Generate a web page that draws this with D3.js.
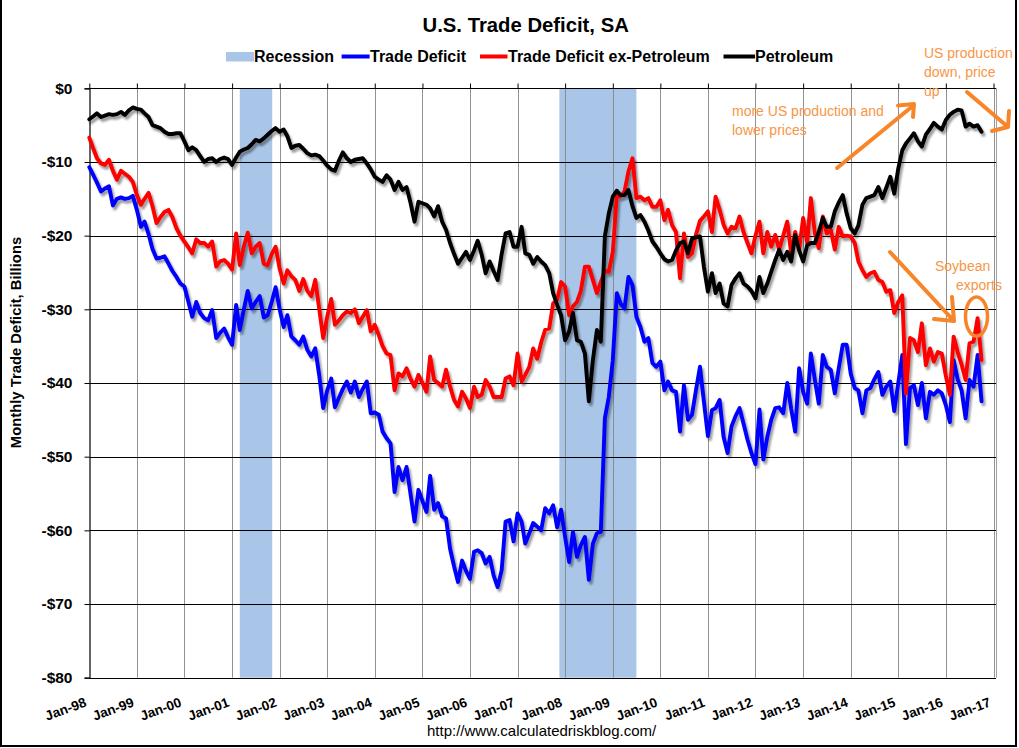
<!DOCTYPE html>
<html><head><meta charset="utf-8">
<script src="https://cdn.jsdelivr.net/npm/d3@7"></script>
<style>
body{margin:0;background:#fff;}
svg{display:block;font-family:"Liberation Sans",Arial,sans-serif;}
</style>
</head><body>
<svg id="chart" width="1019" height="748"></svg>
<script>
// ---------------- DATA (monthly, Jan 1998 – Oct 2016, $ billions) ----------------
const firstMonth = [1998, 0];
const monthCount = 226;

const tradeDeficit = [
-10.7,-11.8,-12.8,-14.0,-13.6,-13.3,-15.9,-15.0,-14.8,-15.0,-14.9,-14.6,
-16.5,-18.8,-18.1,-19.8,-21.8,-23.1,-23.0,-22.8,-23.8,-24.8,-25.6,-26.5,
-26.9,-29.0,-31.0,-29.0,-30.5,-31.2,-31.5,-30.1,-33.9,-33.2,-32.6,-33.8,
-34.8,-29.4,-32.8,-30.0,-27.5,-29.9,-29.0,-28.2,-31.1,-30.8,-29.0,-27.0,
-30.0,-32.4,-30.8,-33.7,-34.2,-34.8,-33.7,-35.5,-36.4,-35.3,-39.0,-43.4,
-41.0,-39.4,-43.3,-42.0,-40.8,-39.8,-41.3,-39.8,-41.9,-40.8,-39.8,-44.1,
-44.0,-44.3,-46.6,-47.5,-48.2,-54.8,-51.4,-53.2,-51.4,-55.0,-58.8,-54.5,
-56.0,-57.5,-52.6,-57.2,-56.3,-58.1,-58.4,-62.5,-64.9,-67.0,-64.1,-65.5,
-66.6,-62.9,-62.7,-63.1,-64.5,-63.6,-66.1,-67.7,-65.4,-58.8,-58.6,-61.5,
-57.7,-58.8,-61.8,-60.4,-59.0,-59.5,-60.0,-57.0,-57.7,-56.6,-59.6,-57.2,
-60.9,-64.3,-60.2,-63.6,-62.0,-60.9,-66.7,-61.8,-60.4,-60.2,-44.8,-41.9,
-36.9,-27.8,-29.2,-29.9,-25.6,-26.7,-31.0,-32.4,-34.4,-33.9,-37.3,-37.8,
-37.1,-41.0,-39.8,-41.0,-41.2,-46.6,-40.3,-45.0,-44.3,-41.0,-37.8,-42.5,
-47.2,-43.7,-43.4,-42.3,-47.3,-49.5,-45.9,-44.5,-43.4,-45.5,-47.7,-49.5,
-51.0,-43.6,-50.4,-47.3,-45.0,-43.4,-43.3,-44.1,-40.0,-43.5,-46.6,-38.0,
-41.2,-42.8,-36.0,-39.6,-42.8,-36.2,-37.8,-38.2,-41.4,-38.0,-34.8,-34.8,
-38.7,-40.7,-41.0,-44.1,-41.0,-40.7,-39.5,-38.5,-41.6,-40.5,-39.8,-43.8,
-40.0,-36.2,-48.3,-40.7,-40.3,-43.0,-40.0,-44.8,-41.2,-41.6,-41.0,-41.4,
-43.0,-45.3,-36.9,-39.5,-41.0,-44.8,-39.6,-40.5,-36.2,-42.5
];

const exPetroleum = [
-6.7,-8.2,-9.5,-10.2,-10.4,-9.7,-11.2,-12.4,-11.2,-11.6,-12.0,-12.7,
-14.5,-15.8,-15.0,-14.2,-16.0,-18.3,-17.5,-16.8,-16.5,-17.5,-19.0,-20.0,
-20.8,-21.6,-22.4,-20.5,-21.0,-21.0,-21.5,-20.8,-24.2,-23.5,-23.3,-23.8,
-24.6,-19.7,-24.0,-21.5,-19.6,-22.4,-21.5,-21.0,-23.8,-24.0,-22.5,-21.5,
-24.5,-26.5,-24.7,-25.5,-26.0,-27.5,-25.9,-27.5,-28.2,-26.0,-30.0,-33.9,
-31.0,-28.6,-32.1,-31.5,-30.8,-30.3,-30.5,-30.0,-31.9,-31.0,-30.1,-33.0,
-32.1,-33.5,-35.0,-36.0,-36.2,-41.0,-38.7,-39.1,-38.0,-39.4,-40.5,-38.9,
-40.0,-41.2,-36.4,-39.6,-40.0,-40.5,-38.2,-40.5,-42.3,-43.2,-41.2,-42.1,
-43.4,-40.5,-41.9,-41.6,-39.6,-40.5,-41.9,-41.9,-41.9,-39.4,-39.1,-40.3,
-36.0,-39.8,-38.9,-37.8,-35.3,-36.7,-34.5,-32.8,-32.6,-29.2,-28.7,-26.3,
-26.9,-30.8,-29.6,-29.0,-27.5,-24.2,-24.2,-26.0,-27.8,-26.3,-24.8,-24.9,
-22.2,-14.5,-14.7,-14.0,-11.3,-9.5,-14.9,-14.7,-15.2,-14.9,-16.1,-16.1,
-15.2,-17.9,-16.5,-18.6,-19.5,-25.8,-19.7,-22.9,-22.4,-19.9,-18.0,-17.4,
-16.7,-19.5,-14.7,-16.5,-18.5,-19.7,-18.8,-19.0,-17.4,-19.5,-21.0,-22.4,
-20.0,-18.1,-22.4,-19.5,-21.5,-19.9,-21.9,-20.0,-18.1,-22.4,-19.5,-21.9,
-17.6,-21.0,-14.9,-19.7,-21.7,-17.4,-19.7,-19.2,-21.9,-18.8,-20.1,-20.0,
-20.1,-21.0,-23.5,-24.7,-25.6,-25.1,-24.9,-26.0,-26.3,-27.6,-27.4,-30.5,
-29.0,-28.1,-41.4,-33.9,-34.2,-35.8,-31.9,-37.6,-35.3,-37.1,-35.8,-36.0,
-39.0,-41.6,-33.7,-35.8,-37.5,-39.6,-34.6,-34.4,-31.2,-36.9
];

const petroleum = [
-4.2,-3.8,-3.4,-3.9,-3.7,-3.5,-3.6,-3.5,-3.2,-3.6,-3.0,-2.6,
-2.8,-2.9,-3.4,-3.9,-5.0,-5.2,-5.4,-5.9,-6.2,-6.2,-6.1,-6.1,
-7.2,-8.4,-8.0,-8.4,-9.2,-10.0,-9.6,-9.5,-10.0,-9.6,-9.4,-9.6,
-10.4,-9.4,-8.6,-8.3,-8.1,-7.6,-7.0,-7.2,-6.8,-6.3,-5.8,-5.4,
-5.9,-5.6,-6.5,-8.1,-7.8,-7.7,-8.2,-8.8,-9.1,-9.0,-9.2,-9.8,
-10.5,-11.0,-11.2,-9.8,-8.7,-9.5,-10.0,-9.7,-9.6,-9.5,-10.2,-11.0,
-12.0,-12.4,-12.7,-11.8,-12.4,-13.8,-12.7,-13.8,-13.4,-15.5,-18.1,-15.4,
-15.6,-15.8,-16.3,-17.4,-16.0,-18.1,-19.2,-21.0,-22.5,-23.8,-23.0,-22.2,
-23.3,-22.0,-20.7,-22.6,-25.1,-23.5,-24.8,-26.0,-22.5,-19.7,-19.5,-21.5,
-21.5,-18.8,-22.4,-22.6,-23.8,-22.9,-23.5,-24.0,-25.1,-27.8,-29.4,-30.8,
-34.2,-33.0,-30.5,-34.2,-34.4,-36.0,-42.5,-36.9,-32.8,-34.4,-20.1,-17.0,
-14.7,-13.9,-14.5,-14.5,-13.8,-16.0,-17.6,-17.2,-18.1,-19.3,-20.8,-21.5,
-22.4,-23.2,-23.5,-23.3,-22.0,-21.0,-20.8,-22.4,-20.4,-20.2,-20.1,-24.2,
-27.6,-25.1,-27.8,-26.5,-29.2,-29.6,-26.7,-25.8,-25.1,-26.5,-26.9,-27.5,
-28.5,-25.6,-27.8,-26.5,-24.9,-23.3,-21.9,-23.3,-22.2,-23.5,-19.9,-22.0,
-23.5,-21.3,-21.0,-21.0,-19.5,-17.6,-18.8,-18.8,-16.7,-15.5,-14.5,-17.0,
-19.0,-19.7,-18.6,-15.8,-14.9,-14.7,-14.5,-13.4,-14.9,-13.5,-12.0,-14.3,
-10.9,-8.4,-7.5,-6.8,-6.1,-7.2,-7.9,-6.3,-5.5,-4.7,-5.2,-5.6,
-4.3,-3.6,-3.2,-2.9,-3.0,-5.2,-4.8,-5.2,-5.0,-5.9
];

const recessions = [["2001-03-01","2001-11-05"],["2007-11-18","2009-07-01"]];
const yTickValues = [0,-10,-20,-30,-40,-50,-60,-70,-80];
const xTickYears = d3.range(1998, 2018);
const seriesNames = ["Trade Deficit","Trade Deficit ex-Petroleum","Petroleum"];
const seriesColors = ["#0000ff","#ff0000","#000000"];
const titleText = "U.S. Trade Deficit, SA";
const yTitle = "Monthly Trade Deficit, Billions";
const sourceText = "http://www.calculatedriskblog.com/";

// ---------------- SETUP ----------------
const svg = d3.select("#chart");
const months = d3.range(monthCount).map(i => new Date(firstMonth[0], firstMonth[1] + i, 1));
const pLeft = 89.3, pRight = 993.5, pTop = 88.3, pBottom = 677.7;
const x = d3.scaleTime().domain([new Date(1998,0,1), new Date(2017,0,1)]).range([pLeft, pRight]);
const y = d3.scaleLinear().domain([-80, 0]).range([pBottom, pTop]);
const parse = d3.timeParse("%Y-%m-%d");

const defs = svg.append("defs");
const f = defs.append("filter").attr("id","shadow").attr("filterUnits","userSpaceOnUse")
  .attr("x",0).attr("y",0).attr("width",1019).attr("height",748);
f.append("feGaussianBlur").attr("in","SourceAlpha").attr("stdDeviation",1.3).attr("result","b");
f.append("feOffset").attr("in","b").attr("dx",2).attr("dy",2.5).attr("result","o");
f.append("feComponentTransfer").attr("in","o").attr("result","oa")
  .append("feFuncA").attr("type","linear").attr("slope",0.4);
const fm = f.append("feMerge");
fm.append("feMergeNode").attr("in","oa");
fm.append("feMergeNode").attr("in","SourceGraphic");

// outer border
svg.append("path").attr("d",`M1,0 V746 H1016 V0`).attr("fill","none").attr("stroke","#000").attr("stroke-width",2);

// recession bands
svg.append("g").selectAll("rect").data(recessions).join("rect")
  .attr("x", d => x(parse(d[0]))).attr("width", d => x(parse(d[1])) - x(parse(d[0])))
  .attr("y", pTop).attr("height", pBottom - pTop).attr("fill", "#a9c6e9");

// vertical gridlines
const janDates = xTickYears.map(yr => new Date(yr,0,1));
svg.append("g").selectAll("line").data(janDates.slice(1)).join("line")
  .attr("x1", d => Math.round(x(d))+0.5).attr("x2", d => Math.round(x(d))+0.5)
  .attr("y1", pTop).attr("y2", pBottom)
  .attr("stroke", "#878787").attr("stroke-width", 1).attr("opacity",0.9);
// plot area right border
svg.append("line").attr("x1",996.5).attr("x2",996.5).attr("y1",pTop).attr("y2",pBottom)
  .attr("stroke","#a0a0a0").attr("stroke-width",1);

// horizontal gridlines
svg.append("g").selectAll("line").data(yTickValues).join("line")
  .attr("x1", pLeft).attr("x2", 996)
  .attr("y1", d => Math.round(y(d))+0.5).attr("y2", d => Math.round(y(d))+0.5)
  .attr("stroke", "#000").attr("stroke-width", 1);

// y axis
const yAxis = svg.append("g").attr("transform", `translate(${Math.round(pLeft)+0.5},0)`)
  .call(d3.axisLeft(y).tickValues(yTickValues).tickSize(5).tickPadding(12)
    .tickFormat(d => d === 0 ? "$0" : "-$" + (-d)));
yAxis.select(".domain").attr("stroke","#000").attr("stroke-width",1.2);
yAxis.selectAll(".tick line").attr("stroke","#000");
yAxis.selectAll(".tick text").attr("font-family","'Liberation Sans',Arial,sans-serif")
  .attr("font-size",15.5).attr("font-weight","bold").attr("fill","#000");

// x axis ticks at top (crossing at $0)
const xAxis = svg.append("g").attr("transform", `translate(0,${Math.round(pTop)+0.5})`)
  .call(d3.axisTop(x).tickValues(janDates).tickSize(5).tickFormat(""));
xAxis.select(".domain").remove();
xAxis.selectAll(".tick line").attr("stroke","#000");

// x labels at bottom, rotated
const fmtLabel = d3.timeFormat("%b-%y");
svg.append("g").selectAll("text").data(janDates).join("text")
  .attr("transform", d => `translate(${x(d) - 2},${706}) rotate(-20)`)
  .attr("text-anchor","end").attr("font-size",13.5).attr("font-weight","bold")
  .text(d => fmtLabel(d));

// series lines
const series = [tradeDeficit, exPetroleum, petroleum];
const line = d3.line().x((d,i) => x(months[i])).y(d => y(d));
const lg = svg.append("g").attr("filter","url(#shadow)");
series.forEach((s, k) => {
  lg.append("path").datum(s).attr("d", line).attr("fill","none")
    .attr("stroke", seriesColors[k]).attr("stroke-width", 3.9)
    .attr("stroke-linejoin","round").attr("stroke-linecap","round");
});

// title
svg.append("text").attr("x", 525.7).attr("y", 32).attr("text-anchor","middle")
  .attr("font-size", 20.3).attr("font-weight","bold").text(titleText);

// legend
const legend = svg.append("g").attr("font-size",16).attr("font-weight","bold");
legend.append("rect").attr("x",226).attr("y",52).attr("width",28).attr("height",9.5).attr("fill","#a9c6e9");
legend.append("text").attr("x",254).attr("y",61.5).text("Recession");
const legendItems = [
  {x1:341.6, x2:369.6, tx:370},
  {x1:480, x2:507.5, tx:508},
  {x1:723.5, x2:755, tx:755}
];
legendItems.forEach((it,k) => {
  legend.append("line").attr("x1",it.x1).attr("x2",it.x2).attr("y1",56.5).attr("y2",56.5)
    .attr("stroke",seriesColors[k]).attr("stroke-width",4);
  legend.append("text").attr("x",it.tx).attr("y",61.5).text(seriesNames[k]);
});

// y-axis title
svg.append("text").attr("transform","translate(20.5,342.5) rotate(-90)").attr("text-anchor","middle")
  .attr("font-size",14.8).attr("font-weight","bold").text(yTitle);

// source
svg.append("text").attr("x",541.6).attr("y",736).attr("text-anchor","middle")
  .attr("font-size",15).text(sourceText);

// annotations
const orangeText = "#f79646", orangeLine = "#f7862a";
const ann = svg.append("g").attr("font-size",14).attr("fill",orangeText);
[["US production",924,57.5],["down, price",924,76.5],["up",924,95.5],
 ["more US production and",732,115.5],["lower prices",732,134.5],
 ["Soybean",935,271],["exports",956,290]].forEach(a => {
  ann.append("text").attr("x",a[1]).attr("y",a[2]).text(a[0]);
});
const arr = svg.append("g").attr("stroke",orangeLine).attr("stroke-width",4).attr("fill","none")
  .attr("stroke-linecap","round").attr("stroke-linejoin","round");
arr.append("path").attr("d","M837,168 L914,105 M898,105.5 L914,104 L913,117");
arr.append("path").attr("d","M967,92 L1008,127 M1009,111 L1008,127 L992,131");
arr.append("path").attr("d","M890,252 L954,321 M952,297 L954,321 L934,319");
arr.append("ellipse").attr("cx",976.5).attr("cy",316.5).attr("rx",11).attr("ry",19.5).attr("stroke-width",3.5);
</script>
</body></html>
